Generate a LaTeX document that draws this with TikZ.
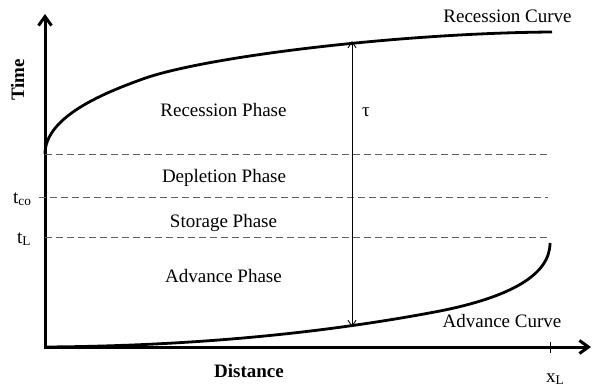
\documentclass[tikz,border=0pt]{standalone}
\usepackage{fontspec}
\setmainfont{Liberation Serif}
\usetikzlibrary{arrows.meta,positioning}
\definecolor{dashgray}{RGB}{95,95,95}
\tikzset{
  axis/.style   = {line width=3pt,line join=miter,
                   {Straight Barb[length=9pt,width=13pt]}-{Straight Barb[length=9pt,width=13pt]}},
  curve/.style  = {line width=2.8pt},
  level/.style  = {dashgray,line width=1pt,dash pattern=on 7pt off 4pt},
  span/.style   = {line width=0.9pt,
                   {Straight Barb[length=6pt,width=8pt]}-{Straight Barb[length=6pt,width=8pt]}},
  phase/.style  = {font=\fontsize{19}{22}\selectfont,inner sep=0pt,anchor=base},
  tag/.style    = {font=\fontsize{19}{22}\selectfont,inner sep=0pt,anchor=base west},
  title/.style  = {font=\fontsize{19}{22}\selectfont\bfseries,inner sep=0pt},
}

\begin{document}
\begin{tikzpicture}[x=1pt,y=-1pt]
  \useasboundingbox (0,0) rectangle (592,389);
  % axes
  \coordinate (origin) at (45,347);
  \coordinate (tmax) at (45,14);
  \coordinate (xmax) at (591,347);
  \draw[axis] (tmax) -- (origin) -- (xmax);
  \draw[line width=0.8pt] (550,342) -- (550,353);
  % phase boundaries
  \draw[level] (45,154) -- (548,154);
  \draw[level] (39,197) -- (548,197);
  \draw[level] (45,237) -- (548,237);
  % recession and advance curves
  \draw[curve] (45,154) .. controls (45,118) and (100,94.5) .. (140,80)
       .. controls (200,57) and (400,33) .. (552,32);
  \draw[curve] (origin) .. controls (200,346) and (330,332) .. (440,311)
       .. controls (510,297) and (550,275) .. (550,243);
  \coordinate (tautop) at (352,41);
  \coordinate (taubot) at (352,327);
  \draw[span] (taubot) -- (tautop);
  \node[phase] (tau) at (366,116) {τ};
  % labels
  \node[phase] (recp) at (223.5,116) {Recession Phase};
  \node[phase] (depp) at (224,182) {Depletion Phase};
  \node[phase] (stop) at (223.5,227) {Storage Phase};
  \node[phase] (advp) at (223.5,282) {Advance Phase};
  \node[phase] (recc) at (507.5,22) {Recession Curve};
  \node[phase] (advc) at (502,327) {Advance Curve};
  \node[tag] (tco) at (13,203) {t\textsubscript{co}};
  \node[tag] (tl) at (17,243) {t\textsubscript{L}};
  \node[tag] (xl) at (546,382) {x\textsubscript{L}};
  \node[title,rotate=90] (time) at (17.5,80) {Time};
  \node[title,anchor=base] (dist) at (249,377) {Distance};
\end{tikzpicture}
\end{document}
